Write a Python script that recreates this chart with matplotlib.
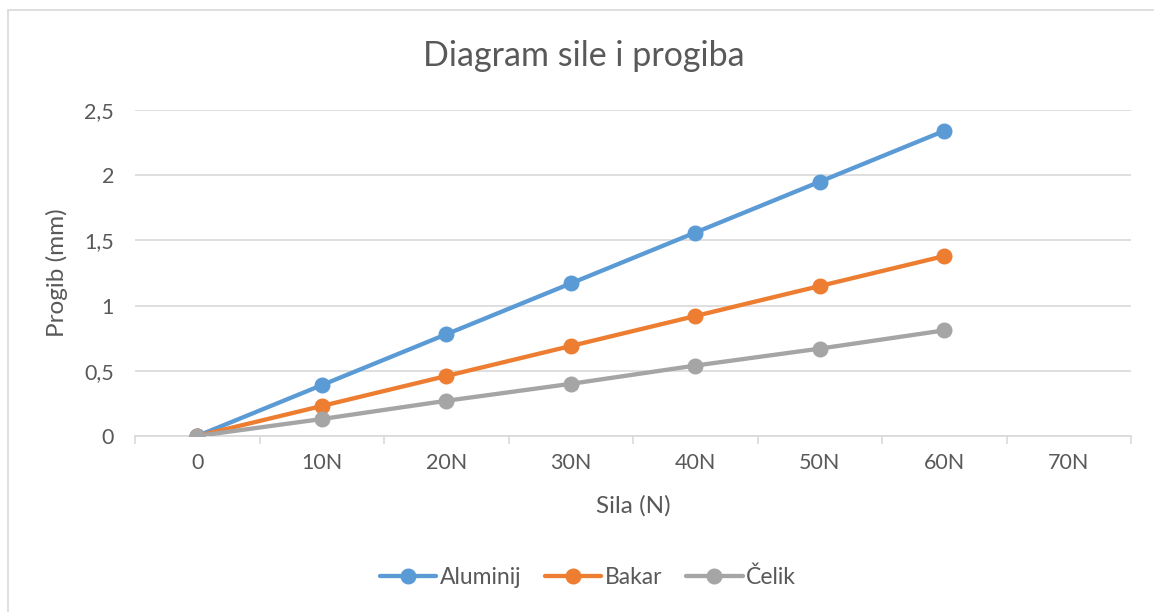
import matplotlib.pyplot as plt
import matplotlib.patches as patches
import numpy as np

plt.rcParams['font.family'] = ['Lato', 'DejaVu Sans']

categories = ['0', '10N', '20N', '30N', '40N', '50N', '60N', '70N']
aluminij = [0, 0.39, 0.78, 1.17, 1.56, 1.95, 2.34]
bakar = [0, 0.23, 0.46, 0.69, 0.92, 1.15, 1.38]
celik = [0, 0.13, 0.27, 0.40, 0.54, 0.67, 0.81]

text_col = '#595959'
grid_col = '#d9d9d9'

fig = plt.figure(figsize=(11.54, 6.12), dpi=100)
ax = fig.add_axes([135 / 1154, 1 - 436 / 612, (1131 - 135) / 1154, (436 - 110) / 612])

# okvir oko cijelog grafikona
fig.patches.append(patches.Rectangle((8 / 1154, -0.01), 1.2, 1 - 10 / 612 + 0.01,
                                     transform=fig.transFigure, fill=False,
                                     edgecolor=grid_col, linewidth=1.2))

x = np.arange(len(aluminij))
series = [(aluminij, 'Aluminij', '#5b9bd5'), (bakar, 'Bakar', '#ed7d31'), (celik, 'Čelik', '#a5a5a5')]
for vals, name, col in series:
    ax.plot(x, vals, color=col, linewidth=3.1, marker='o', markersize=10.5, label=name,
            solid_capstyle='round', zorder=3)

ax.set_xlim(-0.5, len(categories) - 0.5)
ax.set_ylim(0, 2.5)
ax.set_yticks(np.arange(0, 2.51, 0.5))
ax.set_yticklabels(['0', '0,5', '1', '1,5', '2', '2,5'])
ax.set_xticks(np.arange(len(categories)))
ax.set_xticklabels(categories)
ax.set_xticks(np.arange(len(categories) + 1) - 0.5, minor=True)

ax.grid(axis='y', color=grid_col, linewidth=1.2)
ax.set_axisbelow(True)
for s in ['top', 'right', 'left']:
    ax.spines[s].set_visible(False)
ax.spines['bottom'].set_color(grid_col)
ax.spines['bottom'].set_linewidth(1.2)

ax.tick_params(axis='x', which='major', length=0, pad=12, labelsize=15.5, labelcolor=text_col)
ax.tick_params(axis='x', which='minor', length=6, width=1.2, color=grid_col, direction='out')
ax.tick_params(axis='y', length=0, pad=15, labelsize=15.5, labelcolor=text_col)

ax.set_xlabel('Sila (N)', fontsize=17.5, color=text_col, labelpad=16)
ax.set_ylabel('Progib (mm)', fontsize=17.5, color=text_col, labelpad=12)
fig.text(584 / 1154, 1 - 56 / 612, 'Diagram sile i progiba', fontsize=24.5, color=text_col,
         ha='center', va='center')

leg = fig.legend(loc='center', bbox_to_anchor=(588 / 1154, 1 - 577 / 612), ncol=3, frameon=False,
                 fontsize=16.5, handlelength=2.45, columnspacing=1.05, handletextpad=0.15)
for t in leg.get_texts():
    t.set_color(text_col)

plt.savefig('out.png', dpi=100)
